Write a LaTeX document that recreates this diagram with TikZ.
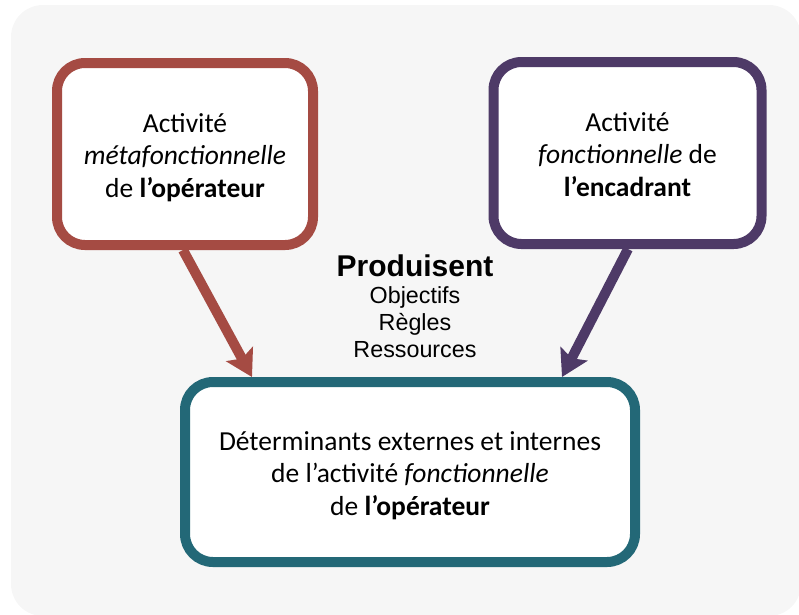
\documentclass[tikz,border=0pt]{standalone}
\usepackage{fontspec}
\setmainfont{Carlito}
\newfontfamily\arialfont{Liberation Sans}
\usetikzlibrary{arrows.meta}

\definecolor{bggray}{HTML}{F6F6F6}
\definecolor{brickred}{HTML}{A54B43}
\definecolor{plum}{HTML}{4E3A67}
\definecolor{petrol}{HTML}{236877}

\tikzset{
  box/.style={draw, line width=10pt, rounded corners=28pt, fill=white, align=center,
    font=\fontsize{27.5}{32.5}\selectfont, text height=86pt, text depth=0pt,
    minimum width=256pt, minimum height=182pt},
  fleche/.style={line width=10pt, -{Stealth[length=26pt,width=30pt,inset=5pt]}}
}

\begin{document}
\begin{tikzpicture}[x=1pt,y=-1pt]
\useasboundingbox (0,0) rectangle (799,614);
\fill[bggray, rounded corners=32pt] (11,5) rectangle (801,616);

\node (operateur) [box, draw=brickred] at (185,154) {Activité\\\textit{métafonctionnelle}\\de \textbf{l’opérateur}};
\node (encadrant) [box, draw=plum, minimum width=268pt] at (627.5,153) {Activité\\\textit{fonctionnelle} de\\\textbf{l’encadrant}};
\node (determinants) [box, draw=petrol, minimum width=450pt, minimum height=180pt] at (410,472)
  {Déterminants externes et internes\\de l’activité \textit{fonctionnelle}\\de \textbf{l’opérateur}};

\node (produisent) [align=center, font=\arialfont\fontsize{23.3}{27}\selectfont] at (415,306)
  {{\fontsize{30}{27}\selectfont\bfseries Produisent}\\Objectifs\\Règles\\Ressources};

\draw[fleche, brickred] ([xshift=-2pt]operateur.south) -- ([xshift=-158pt]determinants.north);
\draw[fleche, plum] ([xshift=0.5pt]encadrant.south) -- ([xshift=152pt]determinants.north);
\end{tikzpicture}
\end{document}
